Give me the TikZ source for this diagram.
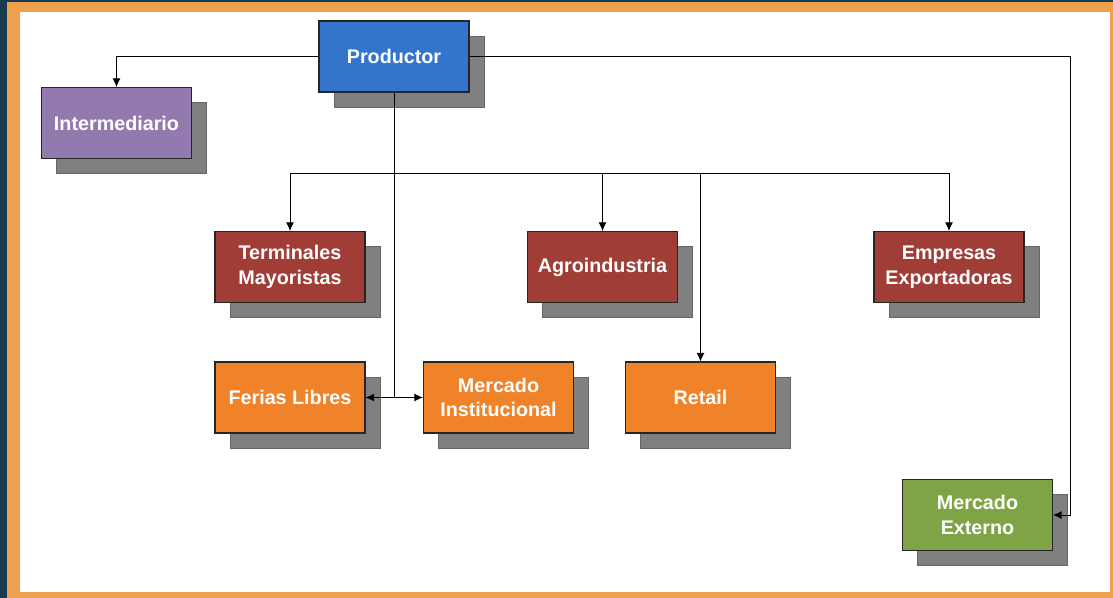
\documentclass[tikz,border=0pt]{standalone}
\usepackage{fontspec}
\setmainfont{Liberation Sans}
\usetikzlibrary{shadows,arrows.meta}

\definecolor{prodblue}{HTML}{3374CC}
\definecolor{intpurple}{HTML}{937AAE}
\definecolor{darkred}{HTML}{9F3D36}
\definecolor{boxorange}{HTML}{F08329}
\definecolor{boxgreen}{HTML}{7EA446}
\definecolor{frameorange}{HTML}{EDA04E}
\definecolor{framedark}{HTML}{163A4E}

\begin{document}
\begin{tikzpicture}[x=0.75pt,y=-0.75pt,
  every node/.style={draw=black!85,line width=0.8pt,minimum width=112.5pt,minimum height=53.25pt,
    align=center,text=white,font=\fontsize{14.8}{18.5}\selectfont\bfseries,
    general shadow={shadow xshift=11.25pt,shadow yshift=-11.25pt,fill=black!50,draw=black!60,line width=0.6pt}},
  arr/.style={-{Latex[length=6.5pt,width=6pt]},line width=0.7pt}]
  \useasboundingbox (0,0) rectangle (1113,598);
  \fill[framedark] (0,0) rectangle (1113,598);
  \fill[frameorange] (7,2) rectangle (1113,598);
  \fill[white] (20,12) rectangle (1110,592);

  \node[fill=prodblue] (prod) at (394,56.5) {Productor};
  \node[fill=intpurple] (inter) at (116.5,123) {Intermediario};
  \node[fill=darkred] (term) at (290,267) {Terminales\\Mayoristas};
  \node[fill=darkred] (agro) at (602.5,267) {Agroindustria};
  \node[fill=darkred] (emp) at (949,267) {Empresas\\Exportadoras};
  \node[fill=boxorange] (fer) at (290,397.5) {Ferias Libres};
  \node[fill=boxorange] (inst) at (498.5,397.5) {Mercado\\Institucional};
  \node[fill=boxorange] (ret) at (700.5,397.5) {Retail};
  \node[fill=boxgreen] (ext) at (977.5,515) {Mercado\\Externo};

  \coordinate (j1) at (394,173);
  \coordinate (j2) at (394,397.5);
  \coordinate (c1) at (1070,515);

  \draw[arr] (prod.west) -| (inter.north);
  \draw[arr] (prod.east) -| (c1) -- (ext.east);
  \draw[line width=0.7pt] (prod.south) -- (j2);
  \foreach \to in {term,agro,ret,emp}
    \draw[arr] (j1) -| (\to.north);
  \draw[arr] (j2) -- (fer.east);
  \draw[arr] (j2) -- (inst.west);

\end{tikzpicture}
\end{document}
